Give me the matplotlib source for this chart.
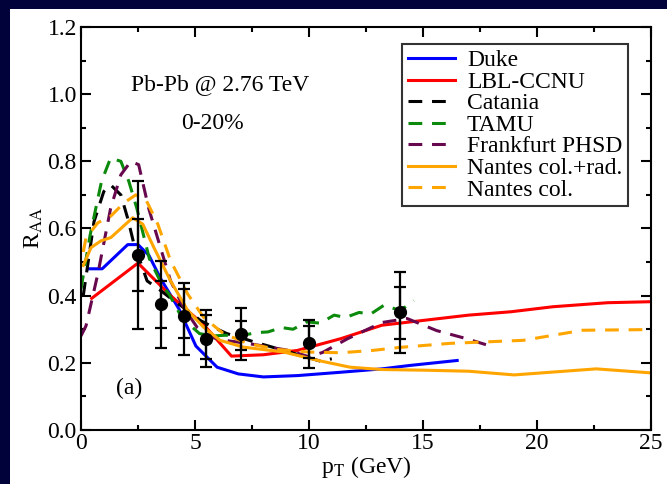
import numpy as np
import matplotlib.pyplot as plt
from matplotlib.patches import Rectangle
from matplotlib.ticker import MultipleLocator

plt.rcParams['font.family'] = 'Liberation Serif'
plt.rcParams['mathtext.fontset'] = 'stix'

# Model curves: R_AA vs p_T (GeV)
duke_pt = [0.37, 0.93, 2.05, 2.5, 2.98, 3.5, 4.3, 5.04, 5.97, 6.9, 8.0, 9.5, 11.4, 13.2, 14.4, 16.5]
duke_raa = [0.48, 0.48, 0.552, 0.552, 0.52, 0.45, 0.36, 0.25, 0.187, 0.167, 0.158, 0.162, 0.172, 0.182, 0.192, 0.207]

lbl_pt = [0.47, 2.5, 3.9, 5.4, 6.6, 8.0, 9.5, 11.4, 13.2, 15.1, 17.0, 18.85, 20.7, 23.1, 25.0]
lbl_raa = [0.392, 0.497, 0.402, 0.312, 0.22, 0.224, 0.237, 0.272, 0.312, 0.327, 0.342, 0.352, 0.367, 0.379, 0.382]

catania_pt = [0.1, 0.57, 1.0, 1.3, 1.75, 2.05, 2.3, 2.9, 3.5, 4.07, 4.68, 5.24, 5.8, 6.4, 7.0, 7.7, 8.9, 9.9, 10.5, 11.0]
catania_raa = [0.40, 0.62, 0.71, 0.73, 0.70, 0.63, 0.56, 0.444, 0.415, 0.385, 0.356, 0.326, 0.306, 0.287, 0.275, 0.26, 0.237, 0.217, 0.205, 0.212]

tamu_pt = [0.0, 0.4, 0.9, 1.3, 1.75, 2.1, 2.45, 3.0, 3.5, 3.9, 4.3, 4.65, 5.2, 5.8, 6.3, 7.1, 7.7, 8.2, 8.8, 9.3,
           9.9, 10.5, 11.1, 11.6, 12.2, 12.7, 13.3, 13.8, 14.2, 14.6]
tamu_raa = [0.42, 0.58, 0.74, 0.81, 0.80, 0.74, 0.66, 0.51, 0.44, 0.40, 0.35, 0.32, 0.287, 0.28, 0.282, 0.282, 0.29, 0.292, 0.305, 0.30,
            0.322, 0.318, 0.342, 0.335, 0.35, 0.345, 0.372, 0.36, 0.365, 0.385]

phsd_pt = [0.0, 0.22, 0.74, 1.3, 1.75, 2.19, 2.53, 2.97, 3.5, 3.93, 4.5, 5.1, 5.7, 6.5, 7.3, 8.0, 9.1, 10.0, 10.6, 11.7,
           13.2, 14.3, 15.6, 16.9, 18.1]
phsd_raa = [0.28, 0.31, 0.465, 0.66, 0.76, 0.80, 0.79, 0.66, 0.54, 0.444, 0.365, 0.305, 0.276, 0.265, 0.258, 0.25, 0.237, 0.218, 0.231, 0.272,
            0.32, 0.332, 0.296, 0.272, 0.247]

nantes_cr_pt = [0.1, 0.44, 0.87, 1.31, 1.75, 2.27, 2.71, 3.2, 3.93, 4.68, 5.38, 6.1, 7.1, 8.9, 10.4, 11.8, 13.2, 15.1, 17.0, 19.0, 22.6, 25.0]
nantes_cr_raa = [0.49, 0.543, 0.563, 0.573, 0.60, 0.632, 0.613, 0.543, 0.444, 0.356, 0.306, 0.267, 0.247, 0.232, 0.207, 0.187, 0.18, 0.178, 0.175, 0.164, 0.182, 0.17]

nantes_c_pt = [0.1, 0.22, 0.74, 1.31, 1.88, 2.4, 2.84, 3.37, 3.93, 4.68, 5.38, 6.25, 7.3, 8.6, 10.0, 11.4, 12.8, 14.0, 16.2, 19.4, 22.0, 25.0]
nantes_c_raa = [0.53, 0.572, 0.617, 0.637, 0.676, 0.70, 0.687, 0.613, 0.504, 0.405, 0.335, 0.287, 0.258, 0.24, 0.232, 0.23, 0.237, 0.246, 0.258, 0.267, 0.297, 0.299]

# ALICE D-meson data with stat (inner) and total (outer) uncertainties
data_pt = [2.5, 3.5, 4.5, 5.5, 7.0, 10.0, 14.0]
data_raa = [0.52, 0.375, 0.34, 0.272, 0.287, 0.26, 0.35]
inner_lo = [0.415, 0.305, 0.275, 0.21, 0.237, 0.215, 0.272]
inner_hi = [0.628, 0.445, 0.42, 0.341, 0.326, 0.31, 0.427]
outer_lo = [0.30, 0.245, 0.222, 0.187, 0.207, 0.185, 0.23]
outer_hi = [0.741, 0.504, 0.439, 0.358, 0.364, 0.329, 0.469]

fig = plt.figure(figsize=(6.67, 4.84), dpi=100, facecolor='#02023a')
fig.patches.append(Rectangle((0.015, 0.0), 0.985, 0.981, transform=fig.transFigure,
                             facecolor='white', edgecolor='none', zorder=-10))
ax = fig.add_axes([0.1214, 0.1116, 0.8546, 0.8326])

lw = 2.2
dash = (0, (4.5, 3.2))
ax.plot(duke_pt, duke_raa, color='#0000ff', lw=lw, label='Duke')
ax.plot(lbl_pt, lbl_raa, color='#ff0000', lw=lw, label='LBL-CCNU')
ax.plot(catania_pt, catania_raa, color='black', lw=lw, ls=dash, label='Catania')
ax.plot(tamu_pt, tamu_raa, color='#0b8a0b', lw=lw, ls=dash, label='TAMU')
ax.plot(phsd_pt, phsd_raa, color='#67074e', lw=lw, ls=dash, label='Frankfurt PHSD')
ax.plot(nantes_cr_pt, nantes_cr_raa, color='#ffa500', lw=lw, label='Nantes col.+rad.')
ax.plot(nantes_c_pt, nantes_c_raa, color='#ffa500', lw=lw, ls=dash, label='Nantes col.')

pt = np.array(data_pt)
raa = np.array(data_raa)
ax.errorbar(pt, raa, yerr=[raa - np.array(outer_lo), np.array(outer_hi) - raa],
            fmt='none', ecolor='black', elinewidth=1.6, capsize=4.5, capthick=1.6, zorder=5)
ax.errorbar(pt, raa, yerr=[raa - np.array(inner_lo), np.array(inner_hi) - raa],
            fmt='none', ecolor='black', elinewidth=1.6, capsize=4.5, capthick=1.6, zorder=5)
ax.plot(pt, raa, 'o', color='black', markersize=8.5, zorder=6)

ax.set_xlim(0, 25)
ax.set_ylim(0, 1.2)
ax.xaxis.set_major_locator(MultipleLocator(5))
ax.xaxis.set_minor_locator(MultipleLocator(2.5))
ax.yaxis.set_major_locator(MultipleLocator(0.2))
ax.yaxis.set_minor_locator(MultipleLocator(0.1))
ax.yaxis.set_major_formatter(plt.FuncFormatter(lambda v, p: f'{v:.1f}'))
ax.tick_params(which='both', direction='in', top=True, right=True, width=1.5, labelsize=17)
ax.tick_params(which='major', length=7)
ax.tick_params(which='minor', length=3.5)
ax.tick_params(axis='x', pad=2)
ax.tick_params(axis='y', pad=3)
for s in ax.spines.values():
    s.set_linewidth(1.5)

ax.set_xlabel(r'p$_{\rm T}$ (GeV)', fontsize=17, labelpad=0)
ax.set_ylabel(r'R$_{\rm AA}$', fontsize=17, labelpad=2)

ax.text(6.1, 1.03, 'Pb-Pb @ 2.76 TeV', fontsize=17, ha='center', va='center')
ax.text(5.77, 0.912, '0-20%', fontsize=17, ha='center', va='center')
ax.text(2.1, 0.124, '(a)', fontsize=17, ha='center', va='center')

leg = ax.legend(loc='upper right', bbox_to_anchor=(0.96, 0.958), fontsize=17, frameon=True,
                fancybox=False, handlelength=2.0, labelspacing=0.0, borderpad=0.25,
                handletextpad=0.5, borderaxespad=0)
leg.get_frame().set_edgecolor('black')
leg.get_frame().set_linewidth(1.5)

fig.savefig('out.png', dpi=100, facecolor=fig.get_facecolor())
